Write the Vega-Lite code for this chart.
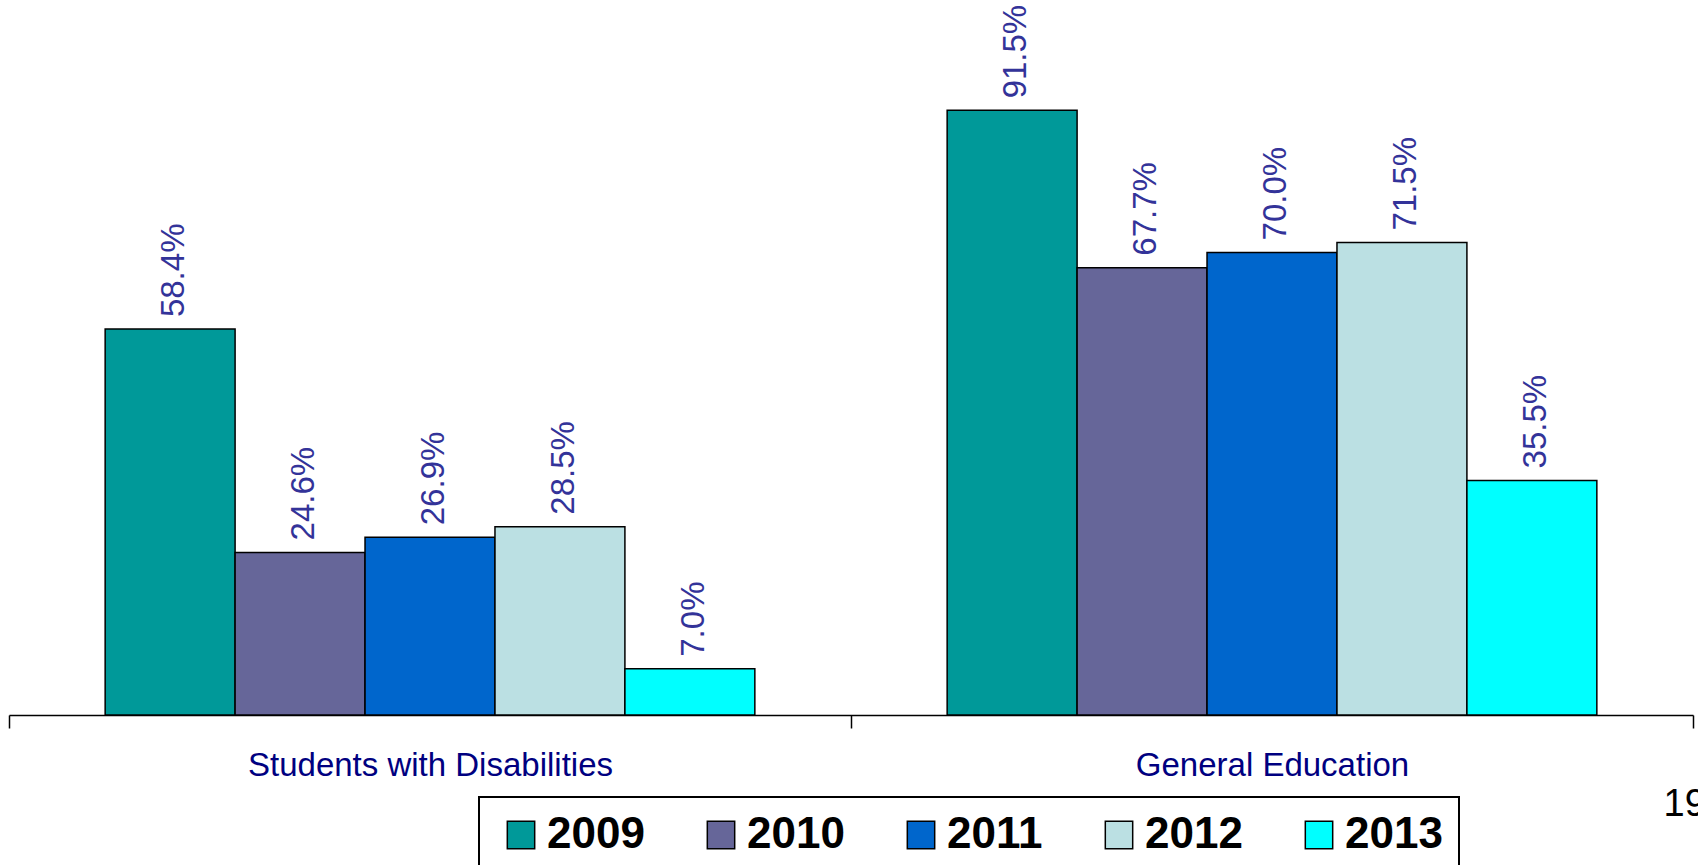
{
  "$schema": "https://vega.github.io/schema/vega-lite/v6.json",
  "width": 1684,
  "height": 715,
  "autosize": {"type": "none"},
  "padding": {"left": 9, "top": 0, "right": 5, "bottom": 150},
  "background": "white",
  "config": {"view": {"stroke": null}, "font": "Liberation Sans", "legend": {"strokeWidth": 2}},
  "data": {"values": [
    {"group": "Students with Disabilities", "year": "2009", "value": 0.584},
    {"group": "Students with Disabilities", "year": "2010", "value": 0.246},
    {"group": "Students with Disabilities", "year": "2011", "value": 0.269},
    {"group": "Students with Disabilities", "year": "2012", "value": 0.285},
    {"group": "Students with Disabilities", "year": "2013", "value": 0.070},
    {"group": "General Education", "year": "2009", "value": 0.915},
    {"group": "General Education", "year": "2010", "value": 0.677},
    {"group": "General Education", "year": "2011", "value": 0.700},
    {"group": "General Education", "year": "2012", "value": 0.715},
    {"group": "General Education", "year": "2013", "value": 0.355}
  ]},
  "encoding": {
    "x": {
      "field": "group", "type": "nominal",
      "sort": ["Students with Disabilities", "General Education"],
      "scale": {"paddingInner": 0, "paddingOuter": 0},
      "axis": {
        "title": "19", "titleX": 1654, "titleY": 70, "titleAlign": "left", "titleBaseline": "top",
        "titleFontSize": 38, "titleFontWeight": "normal", "titleColor": "black", "titleFont": "Liberation Sans",
        "labelAngle": 0, "labelFontSize": 33, "labelColor": "#000080",
        "labelFont": "Liberation Sans", "labelPadding": 21, "labelLimit": 1000, "tickBand": "extent",
        "tickSize": 13, "tickColor": "black", "tickWidth": 1.5,
        "domainColor": "black", "domainWidth": 1.5, "grid": false
      }
    },
    "xOffset": {
      "field": "year", "type": "nominal",
      "scale": {"paddingInner": 0, "paddingOuter": 0.74}
    },
    "y": {
      "field": "value", "type": "quantitative",
      "scale": {"domain": [0, 1.082], "nice": false},
      "axis": null
    }
  },
  "layer": [
    {
      "mark": {"type": "bar", "stroke": "black", "strokeWidth": 1.5},
      "encoding": {
        "color": {
          "field": "year", "type": "nominal",
          "scale": {"domain": ["2009", "2010", "2011", "2012", "2013"], "range": ["#009999", "#666699", "#0066CC", "#BBE0E3", "#00FFFF"]},
          "legend": {
            "orient": "none", "legendX": 470, "legendY": 797, "direction": "horizontal", "columns": 5,
            "title": null, "symbolType": "square", "symbolSize": 750,
            "symbolStrokeColor": "black", "symbolStrokeWidth": 1.5, "symbolOpacity": 1,
            "labelFontSize": 44, "labelFontWeight": "bold", "labelFont": "Liberation Sans", "labelColor": "black",
            "labelOffset": 4, "columnPadding": 50, "padding": 16,
            "strokeColor": "black", "symbolOffset": 4
          }
        }
      }
    },
    {
      "mark": {"type": "text", "angle": -90, "align": "left", "baseline": "middle", "dx": 12, "dy": 4, "fontSize": 33, "color": "#333399", "font": "Liberation Sans"},
      "encoding": {
        "text": {"field": "value", "type": "quantitative", "format": ".1%"}
      }
    }
  ]
}
